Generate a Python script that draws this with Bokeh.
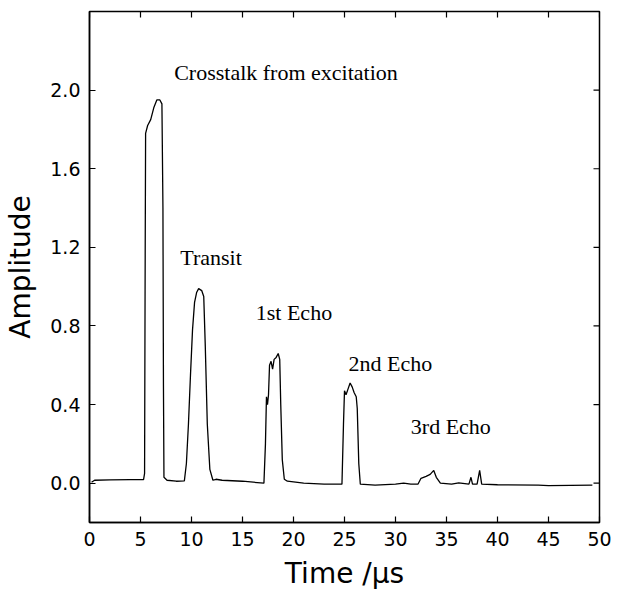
import math
from bokeh.plotting import figure
from bokeh.models import Range1d, FixedTicker, ColumnDataSource
from bokeh.core.properties import value
from bokeh.embed import file_html
from bokeh.resources import INLINE

# ---- data ----
time_us = [0.2, 0.5, 2.0, 4.0, 5.3, 5.4, 5.45, 5.5, 5.7, 6.0, 6.3, 6.6, 6.9, 7.1, 7.2, 7.25, 7.3,
           7.6, 8.5, 9.3, 9.5, 9.7, 9.9, 10.1, 10.3, 10.5, 10.7, 11.0, 11.2, 11.35, 11.55, 11.8, 12.1,
           12.4, 13.0, 15.0, 17.1, 17.25, 17.35, 17.45, 17.55, 17.65, 17.8, 17.95, 18.1, 18.3, 18.5,
           18.65, 18.75, 18.9, 19.1, 19.4, 21.0, 23.0, 24.75, 24.9, 25.0, 25.15, 25.35, 25.55, 25.75,
           25.95, 26.15, 26.25, 26.4, 26.55, 28.0, 30.0, 30.8, 31.5, 32.2, 32.5, 33.0, 33.4, 33.75,
           34.0, 34.4, 35.5, 36.2, 37.2, 37.4, 37.55, 38.0, 38.25, 38.45, 40.0, 44.0, 45.0, 49.3]
amplitude = [0.005, 0.015, 0.017, 0.018, 0.018, 0.05, 1.0, 1.78, 1.82, 1.85, 1.91, 1.95, 1.95, 1.93, 1.4, 0.5, 0.03,
             0.015, 0.01, 0.012, 0.1, 0.3, 0.55, 0.78, 0.92, 0.97, 0.99, 0.98, 0.95, 0.7, 0.3, 0.07, 0.015,
             0.02, 0.015, 0.01, 0.0, 0.2, 0.44, 0.40, 0.45, 0.6, 0.62, 0.58, 0.63, 0.64, 0.66,
             0.63, 0.4, 0.12, 0.02, 0.01, 0.0, -0.005, -0.005, 0.3, 0.47, 0.45, 0.48, 0.51, 0.49,
             0.46, 0.44, 0.38, 0.1, -0.005, -0.01, -0.005, 0.0, -0.005, -0.005, 0.025, 0.035, 0.045, 0.065,
             0.03, 0.0, -0.005, 0.002, -0.005, 0.03, -0.005, -0.005, 0.065, -0.005, -0.008, -0.01, -0.012, -0.01]

ann_x = [8.3, 8.9, 16.3, 25.4, 31.5]
ann_y = [2.09, 1.15, 0.87, 0.61, 0.29]
ann_text = ["Crosstalk from excitation", "Transit", "1st Echo", "2nd Echo", "3rd Echo"]

x_ticks = [0, 5, 10, 15, 20, 25, 30, 35, 40, 45, 50]
y_ticks = [0.0, 0.4, 0.8, 1.2, 1.6, 2.0]
y_tick_labels = {0.0: "0.0", 0.4: "0.4", 0.8: "0.8", 1.2: "1.2", 1.6: "1.6", 2.0: "2.0"}
x_min, x_max = 0, 50
y_min, y_max = -0.2, 2.4

p = figure(width=623, height=597, x_range=Range1d(x_min, x_max), y_range=Range1d(y_min, y_max),
           output_backend="svg", toolbar_location=None,
           min_border_left=89, min_border_right=24, min_border_top=11, min_border_bottom=75)
p.background_fill_color = "white"
p.border_fill_color = "white"
p.xgrid.visible = False
p.ygrid.visible = False
p.outline_line_color = "black"
p.outline_line_width = 1.5

tick_font = "DejaVu Sans"

p.xaxis.ticker = FixedTicker(ticks=x_ticks)
p.yaxis.ticker = FixedTicker(ticks=y_ticks)
p.yaxis.major_label_overrides = y_tick_labels
p.xaxis.axis_label = "Time /\u03bcs"
p.yaxis.axis_label = "Amplitude"
for ax in (p.xaxis[0], p.yaxis[0]):
    ax.major_tick_in = 6
    ax.major_tick_out = 0
    ax.minor_tick_line_color = None
    ax.axis_line_width = 1.5
    ax.major_tick_line_width = 1.2
    ax.major_label_text_font = tick_font
    ax.major_label_text_font_size = "19px"
    ax.major_label_text_color = "black"
    ax.axis_label_text_font = tick_font
    ax.axis_label_text_font_size = "28px"
    ax.axis_label_text_font_style = "normal"
    ax.axis_label_text_color = "black"
p.xaxis.major_label_standoff = 9
p.yaxis.major_label_standoff = 9
p.xaxis.axis_label_standoff = 8
p.yaxis.axis_label_standoff = 10

# inward ticks on the top and right edges (glyphs are clipped to the frame, so only the inner half shows)
p.scatter(x=x_ticks, y=[y_max] * len(x_ticks), marker="dash", angle=math.pi / 2, size=12,
          line_color="black", line_width=1.2)
p.scatter(x=[x_max] * len(y_ticks), y=y_ticks, marker="dash", size=12,
          line_color="black", line_width=1.2)

p.line(time_us, amplitude, line_color="black", line_width=1.3)

src = ColumnDataSource(dict(x=ann_x, y=ann_y, t=ann_text))
p.text(x="x", y="y", text="t", source=src, text_font=value("Liberation Serif"),
       text_font_size="22px", text_align="left", text_baseline="middle", text_color="black")

open("out.html", "w").write(file_html(p, INLINE))
